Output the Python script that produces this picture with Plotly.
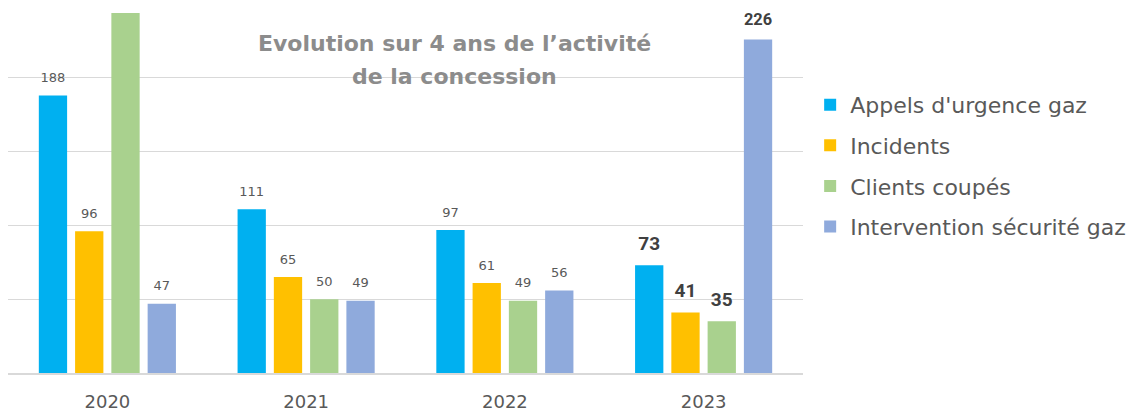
import plotly.graph_objects as go

years = ["2020", "2021", "2022", "2023"]
series_names = ["Appels d'urgence gaz", "Incidents", "Clients coupés", "Intervention sécurité gaz"]
appels = [188, 111, 97, 73]
incidents = [96, 65, 61, 41]
clients = [250, 50, 49, 35]  # 2020 bar exceeds the visible axis (clipped, no label)
intervention = [47, 49, 56, 226]
clients_labels = ["", "50", "49", "35"]
colors = ["#00B0F0", "#FFC000", "#A9D18E", "#8FAADC"]

values = [appels, incidents, clients, intervention]
labels = [
    [str(v) for v in appels],
    [str(v) for v in incidents],
    clients_labels,
    [str(v) for v in intervention],
]

LABEL_GAP = 5  # invisible spacer (in data units) between bar top and its label

fig = go.Figure()
for i, (name, vals, labs, col) in enumerate(zip(series_names, values, labels, colors)):
    fig.add_trace(go.Bar(
        x=years, y=vals, name=name, marker=dict(color=col, line=dict(width=0)),
        offsetgroup=str(i), legendgroup=f"g{i}", hoverinfo="x+y+name",
    ))
for i, (vals, labs) in enumerate(zip(values, labels)):
    fig.add_trace(go.Bar(
        x=years, y=[LABEL_GAP] * len(vals), base=vals,
        marker=dict(color="rgba(0,0,0,0)", line=dict(width=0)),
        text=labs, textposition="outside", cliponaxis=False,
        textfont=dict(
            size=[13, 13, 13, 19],
            color=["#595959", "#595959", "#595959", "#404040"],
            family=["DejaVu Sans", "DejaVu Sans", "DejaVu Sans", "Roboto, sans-serif"],
            weight=["normal", "normal", "normal", "bold"],
        ),
        offsetgroup=str(i), showlegend=False, hoverinfo="skip",
    ))

fig.update_layout(
    width=1139, height=414,
    margin=dict(l=8, r=336, t=13, b=41, autoexpand=False),
    barmode="group", bargap=0.27, bargroupgap=0.22,
    plot_bgcolor="white", paper_bgcolor="white",
    font=dict(family="DejaVu Sans, sans-serif", color="#595959"),
    showlegend=True,
    legend=dict(
        x=1.009, xanchor="left", y=0.803, yanchor="top",
        bgcolor="rgba(0,0,0,0)",
        font=dict(size=22, color="#595959", family="DejaVu Sans, sans-serif"),
        traceorder="grouped", tracegroupgap=9,
    ),
    xaxis=dict(
        showline=True, linecolor="#D9D9D9", linewidth=1.5, automargin=False,
        tickfont=dict(size=18, color="#595959"), ticks="", ticklabelstandoff=12,
        fixedrange=True,
    ),
    yaxis=dict(
        range=[0, 244], dtick=50, showgrid=True, gridcolor="#D9D9D9", gridwidth=1.2,
        showticklabels=False, zeroline=False, fixedrange=True, automargin=False,
    ),
    annotations=[
        dict(text="Evolution sur 4 ans de l’activité",
             xref="paper", yref="paper", x=0.562, y=0.914, xanchor="center", yanchor="middle",
             showarrow=False,
             font=dict(size=22, color="#8C8C8C", family="DejaVu Sans, sans-serif", weight="bold")),
        dict(text="de la concession",
             xref="paper", yref="paper", x=0.562, y=0.825, xanchor="center", yanchor="middle",
             showarrow=False,
             font=dict(size=22, color="#8C8C8C", family="DejaVu Sans, sans-serif", weight="bold")),
    ],
)

fig.write_html(
    "out.html",
    config={"displayModeBar": False},
    post_script="document.body.style.margin='0';document.body.style.overflow='hidden';",
)
